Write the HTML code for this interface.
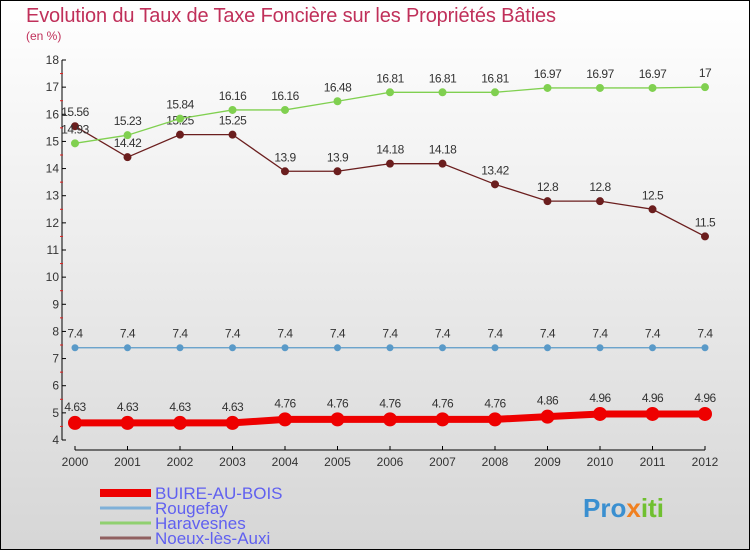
<!DOCTYPE html>
<html><head><meta charset="utf-8"><style>
body{margin:0;}
#c{width:750px;height:550px;position:relative;overflow:hidden;background:linear-gradient(#ffffff,#d6d6d6);font-family:"Liberation Sans",sans-serif;}
</style></head><body>
<div id="c">
<svg id="s" width="750" height="550" style="position:absolute;left:0;top:0">
<rect x="0.5" y="0.5" width="749" height="549" fill="none" stroke="#000"/>
<text x="26" y="22" font-size="20" fill="#c0305a" textLength="530">Evolution du Taux de Taxe Foncière sur les Propriétés Bâties</text>
<text x="26" y="40" font-size="12" fill="#c0305a">(en %)</text>
<g id="axes"></g><g id="series"></g><g id="legend"></g>
<text x="583" y="517" font-size="26" font-weight="bold" fill="#3a8fd0">Pro<tspan fill="#f08020">x</tspan><tspan fill="#70c030">iti</tspan></text>
</svg>
</div>
<script>
const years=[2000,2001,2002,2003,2004,2005,2006,2007,2008,2009,2010,2011,2012];
const yTicks=[4,5,6,7,8,9,10,11,12,13,14,15,16,17,18];
const buire=[4.63,4.63,4.63,4.63,4.76,4.76,4.76,4.76,4.76,4.86,4.96,4.96,4.96];
const rougefay=[7.4,7.4,7.4,7.4,7.4,7.4,7.4,7.4,7.4,7.4,7.4,7.4,7.4];
const haravesnes=[14.93,15.23,15.84,16.16,16.16,16.48,16.81,16.81,16.81,16.97,16.97,16.97,17];
const noeux=[15.56,14.42,15.25,15.25,13.9,13.9,14.18,14.18,13.42,12.8,12.8,12.5,11.5];
const names=["BUIRE-AU-BOIS","Rougefay","Haravesnes","Noeux-lès-Auxi"];
const NS="http://www.w3.org/2000/svg";
const X=i=>75+i*52.5, Y=v=>60+(18-v)/14*380;
function mk(p,t,a){const e=document.createElementNS(NS,t);for(const k in a)e.setAttribute(k,a[k]);p.appendChild(e);return e;}
const ax=document.getElementById('axes');
let e=mk(ax,'line',{x1:62,y1:60,x2:62,y2:440,stroke:'#000'});


e=mk(ax,'line',{x1:75,y1:450,x2:705,y2:450,stroke:'#000'});


yTicks.forEach(v=>{mk(ax,'line',{x1:62,y1:Y(v),x2:66,y2:Y(v),stroke:'#000'});
 if(v<18)mk(ax,'line',{x1:60,y1:Y(v+0.5),x2:63,y2:Y(v+0.5),stroke:'#e02020'});
 const t=mk(ax,'text',{x:59,y:Y(v)+4,'font-size':12,fill:'#333','text-anchor':'end'});t.textContent=v;
 
 });
years.forEach((y,i)=>{mk(ax,'line',{x1:X(i),y1:446,x2:X(i),y2:450,stroke:'#000'});
 const t=mk(ax,'text',{x:X(i),y:466,'font-size':12,fill:'#333','text-anchor':'middle'});t.textContent=y;
 
 });
const sg=document.getElementById('series');
function series(d,col,fill,w,r,nm,dy){
 const g=mk(sg,'g',{});
 
 
 mk(g,'polyline',{points:d.map((v,i)=>X(i)+','+Y(v)).join(' '),fill:'none',stroke:col,'stroke-width':w});
 d.forEach((v,i)=>{const c=mk(g,'circle',{cx:X(i),cy:Y(v),r:r,fill:fill,stroke:col,'stroke-width':1});
  
  
  const t=mk(g,'text',{x:X(i),y:Y(v)+dy,'font-size':12,fill:'#333','text-anchor':'middle','letter-spacing':'-0.5'});t.textContent=v;
  
  });
}
series(noeux,'#6b1e1e','#6b1e1e',1.3,3.5,'noeux',-10);
series(haravesnes,'#80d050','#80d050',1.3,3.5,'haravesnes',-10);
series(rougefay,'#5a9ac8','#5a9ac8',1.3,3,'rougefay',-10);
series(buire,'#ee0000','#ee0000',7,6.5,'buire',-12);
const lg=document.getElementById('legend');
const lc=['#ee0000','#7fb0d8','#90d070','#906060'],lw=[8,3,3,3];
names.forEach((n,i)=>{const y=493+i*15;
 const l=mk(lg,'line',{x1:100,y1:y,x2:151,y2:y,stroke:lc[i],'stroke-width':lw[i]});
 
 
 const t=mk(lg,'text',{x:155,y:y+6,'font-size':17,fill:'#6060f0'});t.textContent=n;
 
 });
</script>
</body></html>
